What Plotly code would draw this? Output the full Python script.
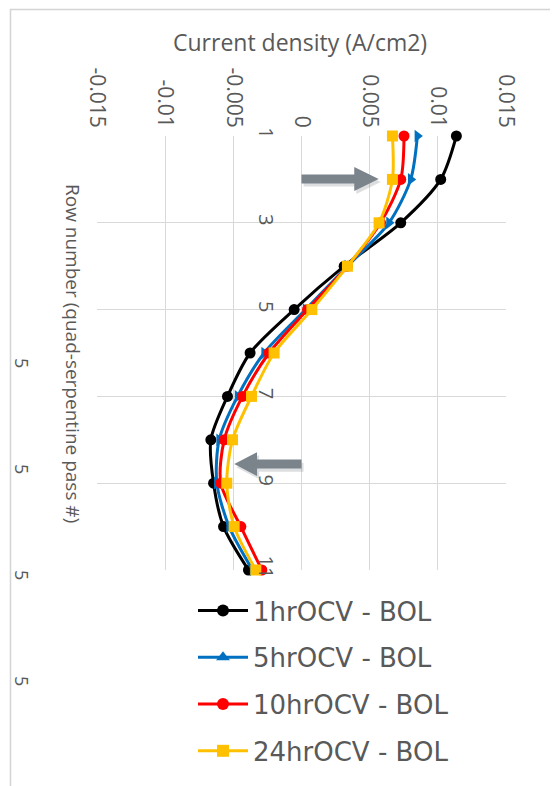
import plotly.graph_objects as go

rows = [1, 2, 3, 4, 5, 6, 7, 8, 9, 10, 11]
hr1 = [0.01136, 0.01021, 0.00728, 0.00313, -0.00054, -0.00377, -0.00543, -0.00665, -0.00645, -0.00572, -0.00389]
hr5 = [0.00850, 0.00801, 0.00642, 0.00337, 0.00030, -0.00274, -0.00469, -0.00604, -0.00621, -0.00531, -0.00359]
hr10 = [0.00752, 0.00728, 0.00580, 0.00337, 0.00044, -0.00238, -0.00433, -0.00567, -0.00592, -0.00445, -0.00291]
hr24 = [0.00667, 0.00667, 0.00569, 0.00337, 0.00076, -0.00201, -0.00367, -0.00506, -0.00548, -0.00494, -0.00335]

series_names = ["1hrOCV - BOL", "5hrOCV - BOL", "10hrOCV - BOL", "24hrOCV - BOL"]
series_vals = [hr1, hr5, hr10, hr24]
colors = ["#000000", "#0070C0", "#FF0000", "#FFC000"]
plot_symbols = ["circle", "triangle-right", "circle", "square"]
legend_symbols = ["circle", "triangle-up", "circle", "square"]
marker_sizes = [11, 11, 11, 11]

x_tickvals = [-0.015, -0.01, -0.005, 0, 0.005, 0.01, 0.015]
x_ticktext = ["-0.015", "-0.01", "-0.005", "0", "0.005", "0.01", "0.015"]
y_tickvals = [1, 3, 5, 7, 9, 11]

# arrow annotations: (tail x, shaft end x, tip x, centre row)
arrows = [(0.0, 0.00387, 0.00566, 1.99), (0.0, -0.00326, -0.00493, 8.56)]

FONT = "Open Sans"
GREY = "#595959"

# page has an 8px body margin; plot area target (page px): x 97..506, y 136..570
OFF = 8
L, T, W, H = 97 - OFF, 136 - OFF, 409, 434
R = 558 - L - W
B = 786 - T - H

def px_x(p):  # page px -> paper x
    return (p - 97) / W

def px_y(p):  # page px -> paper y
    return 1 - (p - 136) / H

fig = go.Figure()
for name, vals, c, sym, ms in zip(series_names, series_vals, colors, plot_symbols, marker_sizes):
    fig.add_trace(go.Scatter(
        x=vals, y=rows, mode="lines+markers", name=name, showlegend=False,
        line=dict(color=c, width=3, shape="spline", smoothing=0.8),
        marker=dict(symbol=sym, size=ms, color=c),
        cliponaxis=False,
    ))
for i, (name, c, sym, ms) in enumerate(zip(series_names, colors, legend_symbols, marker_sizes)):
    fig.add_trace(go.Scatter(
        x=[None], y=[None], mode="lines+markers", name=name, legendgroup=f"g{i}",
        line=dict(color=c, width=3), marker=dict(symbol=sym, size=ms + 1, color=c),
    ))

def arrow_path(x0, x1, x2, yc, hs=0.104, hh=0.276, dx=0.0, dy=0.0):
    pts = [(x0, yc - hs), (x1, yc - hs), (x1, yc - hh), (x2, yc), (x1, yc + hh), (x1, yc + hs), (x0, yc + hs)]
    return "M " + " L ".join(f"{px + dx},{py + dy}" for px, py in pts) + " Z"

shapes = []
for (x0, x1, x2, yc) in arrows:
    shapes.append(dict(type="path", xref="x", yref="y", path=arrow_path(x0, x1, x2, yc, dx=0.00015, dy=0.07),
                       fillcolor="rgba(120,125,130,0.25)", line=dict(width=0), layer="above"))
    shapes.append(dict(type="path", xref="x", yref="y", path=arrow_path(x0, x1, x2, yc),
                       fillcolor="#7b838b", line=dict(width=0), layer="above"))
# outer chart border
shapes.append(dict(type="rect", xref="paper", yref="paper", x0=px_x(10.5), x1=px_x(552.5),
                   y0=px_y(830), y1=px_y(9.5),
                   line=dict(color="#d4d4d4", width=1.5), layer="below"))

annotations = [
    dict(text="Current density (A/cm2)", xref="paper", yref="paper", x=px_x(300), y=px_y(42),
         xanchor="center", yanchor="middle",
         showarrow=False, font=dict(family=FONT, size=23, color=GREY)),
    dict(text="Row number (quad-serpentine pass #)", xref="paper", yref="paper",
         x=px_x(73), y=px_y(353), xanchor="center", yanchor="middle",
         textangle=90, showarrow=False, font=dict(family=FONT, size=19, color=GREY)),
]
for yp in [363, 469, 575, 681]:
    annotations.append(dict(text="5", xref="paper", yref="paper", x=px_x(22), y=px_y(yp),
                            xanchor="center", yanchor="middle", textangle=90, showarrow=False,
                            font=dict(family=FONT, size=18, color=GREY)))

fig.update_layout(
    width=558, height=786,
    margin=dict(l=L, r=R, t=T, b=B, autoexpand=False),
    paper_bgcolor="white", plot_bgcolor="white",
    font=dict(family=FONT, color=GREY),
    xaxis=dict(side="top", range=[-0.015, 0.015], tickvals=x_tickvals, ticktext=x_ticktext,
               tickangle=90, tickfont=dict(size=21, color=GREY), showgrid=True,
               gridcolor="#d9d9d9", gridwidth=1, zeroline=False, showline=False,
               ticks="", ticklabelstandoff=4, automargin=False),
    yaxis=dict(range=[11, 1], tickvals=y_tickvals, tickangle=90,
               tickfont=dict(size=20, color=GREY), showgrid=True, gridcolor="#d9d9d9",
               gridwidth=1, zeroline=False, showline=False, ticks="",
               anchor="free", position=0.5, ticklabelstandoff=23, automargin=False),
    legend=dict(x=px_x(193), y=px_y(587), xanchor="left", yanchor="top", orientation="v",
                font=dict(family="DejaVu Sans", size=26, color=GREY), tracegroupgap=10,
                itemwidth=50, bgcolor="rgba(0,0,0,0)"),
    shapes=shapes, annotations=annotations,
)

fig.write_html("out.html")
